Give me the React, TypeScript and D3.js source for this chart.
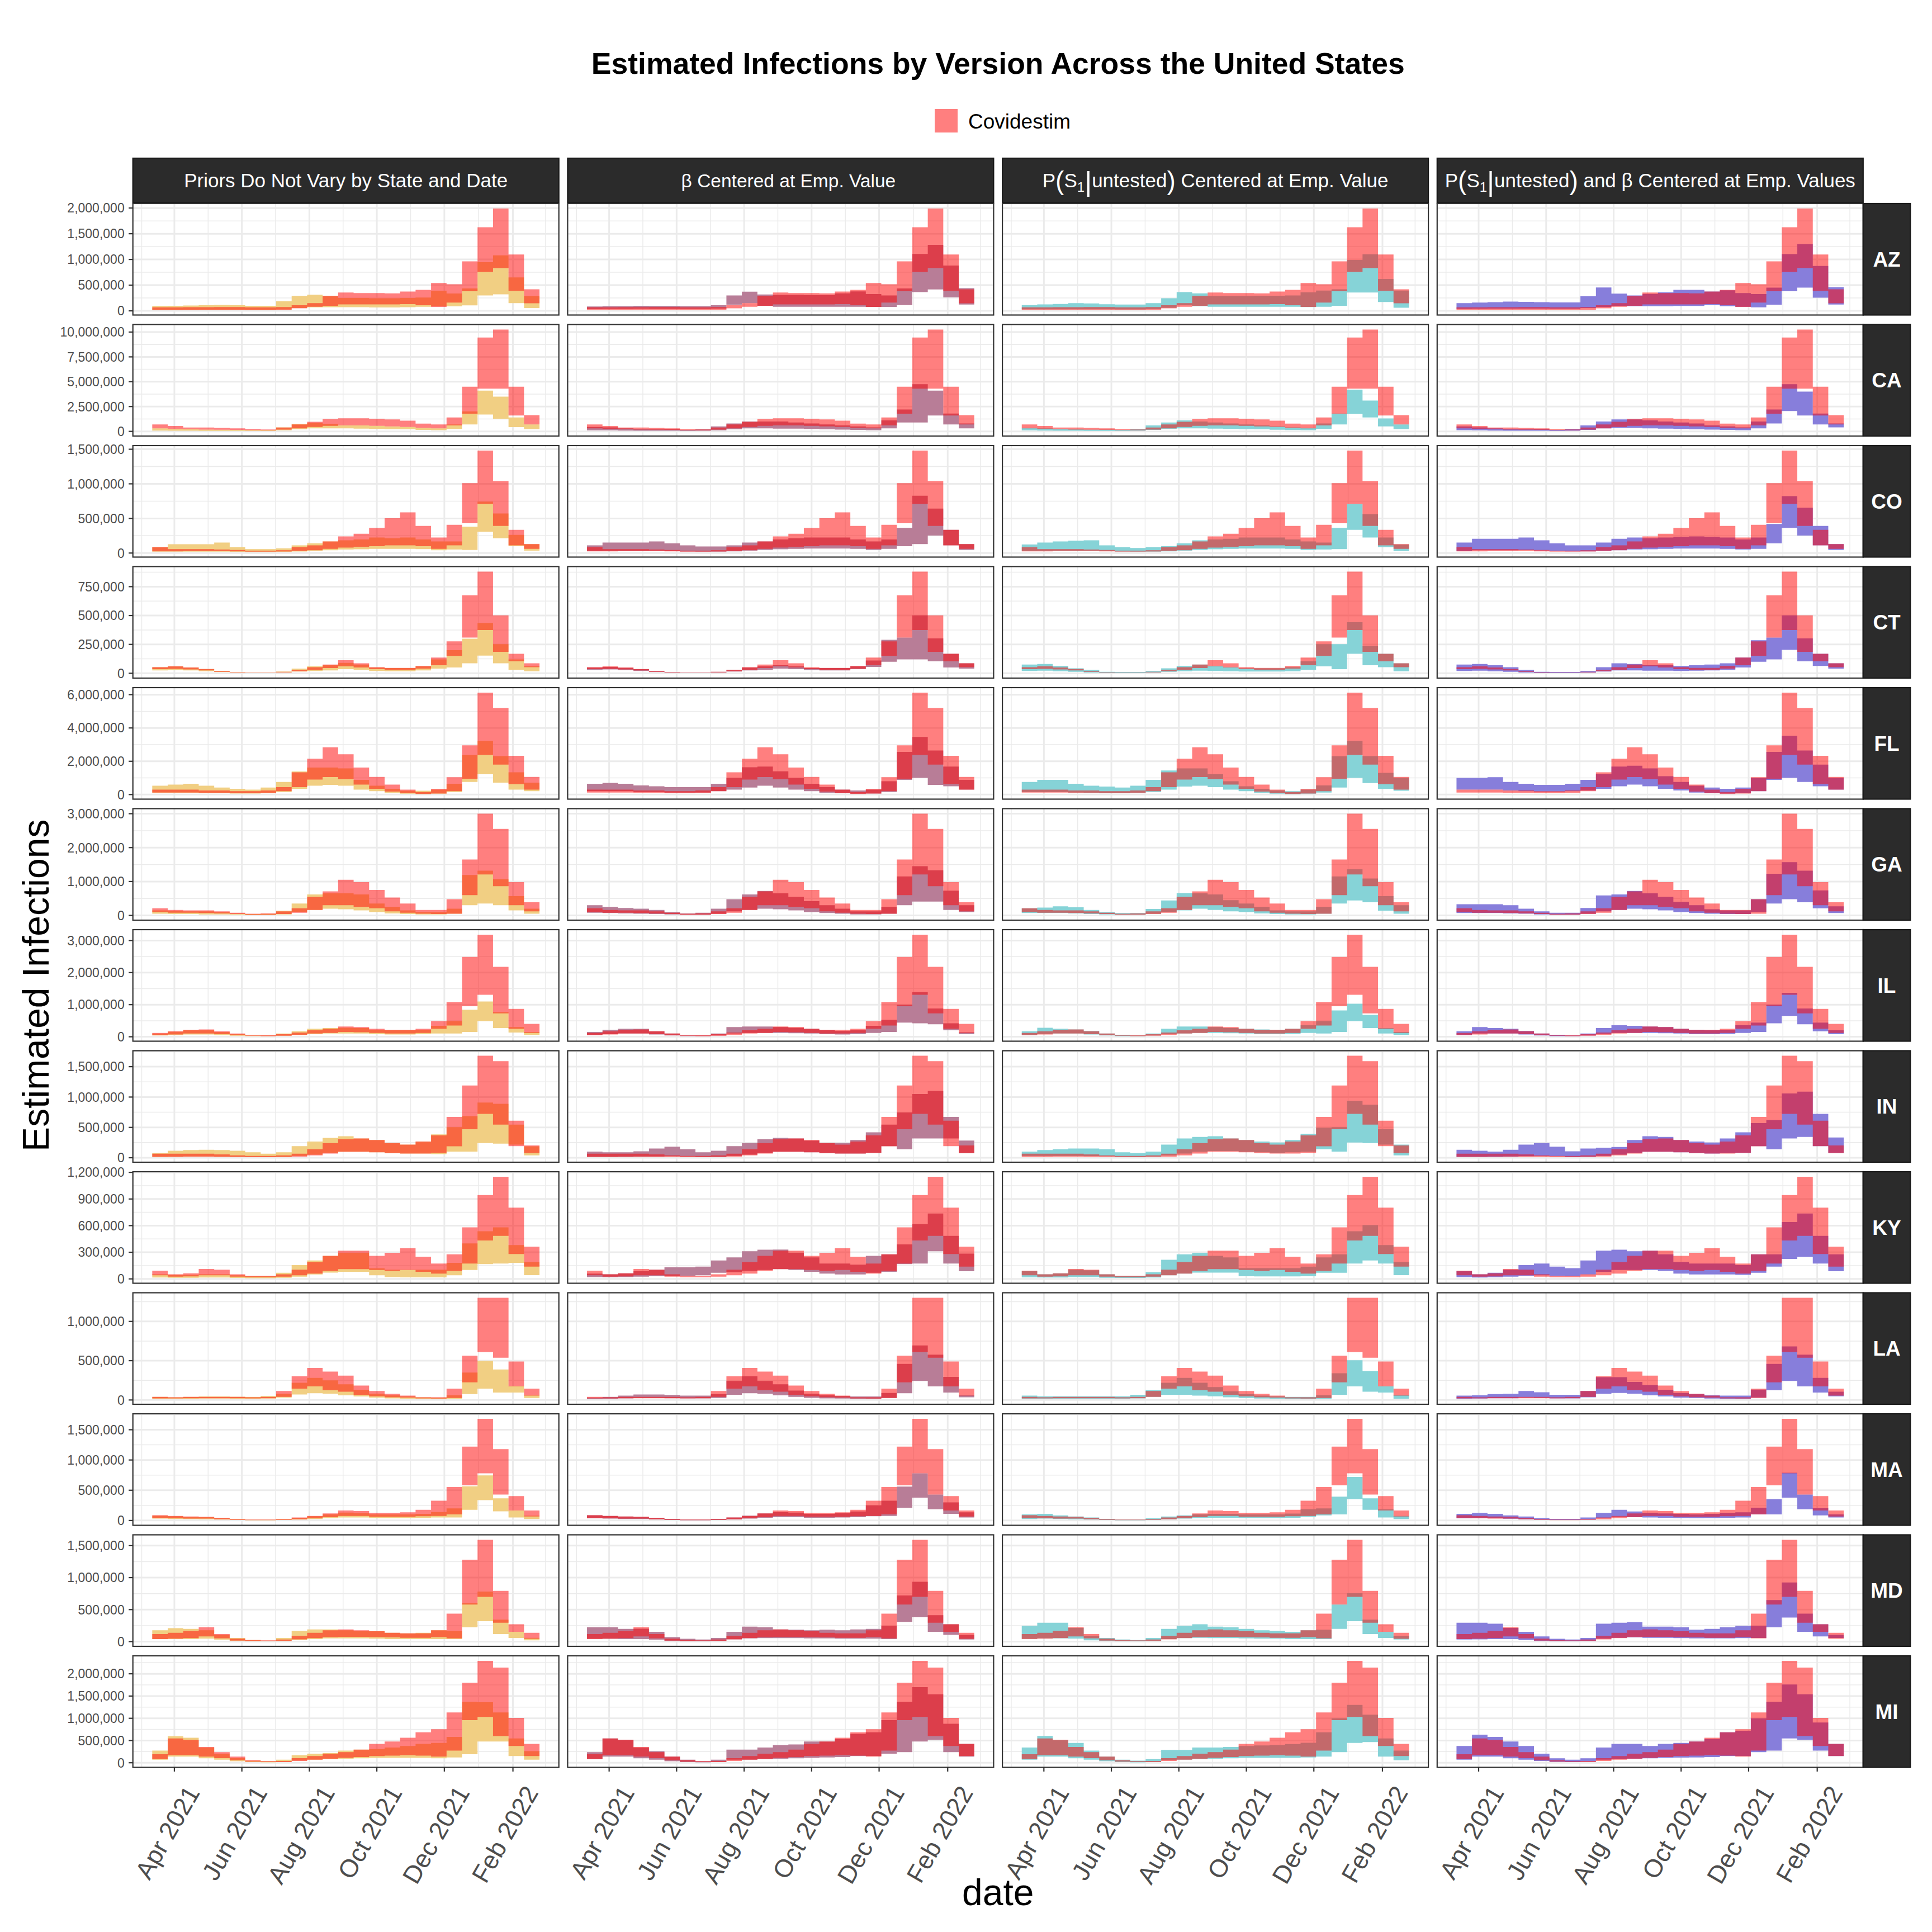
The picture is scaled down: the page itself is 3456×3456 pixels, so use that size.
import React from "react";
import * as d3 from "d3";

// ---- facets ----
const STATES = ["AZ", "CA", "CO", "CT", "FL", "GA", "IL", "IN", "KY", "LA", "MA", "MD", "MI"];
const VERSION_COLORS = ["#F1CF83", "#B87D97", "#86D3D7", "#877EDB"];

// biweekly periods, first one starts 2021-03-12
const FIRST_PERIOD = new Date(2021, 2, 12);
const PERIOD_DAYS = 14;
const N_PERIODS = 25;

const X_TICKS = [
  new Date(2021, 3, 1),
  new Date(2021, 5, 1),
  new Date(2021, 7, 1),
  new Date(2021, 9, 1),
  new Date(2021, 11, 1),
  new Date(2022, 1, 1),
];
const X_TICK_LABELS = ["Apr 2021", "Jun 2021", "Aug 2021", "Oct 2021", "Dec 2021", "Feb 2022"];

// ---- values, in thousands of infections (lo / hi of each ribbon) ----
// AZ
const azCovLo = [18,18,18,20,20,20,18,18,20,50,79,100,125,125,125,125,131,110,77,160,381,757,832,389,149];
const azCovHi = [70,70,72,72,75,75,70,70,75,110,150,293,357,345,345,340,375,410,542,517,963,1626,1990,1097,420];
const azV1Lo = [18,18,20,20,20,20,18,18,25,54,70,71,71,71,65,65,71,80,89,89,107,300,321,150,54];
const azV1Hi = [96,100,105,110,115,110,100,100,186,293,314,290,250,250,245,245,250,260,393,339,436,946,1080,650,286];
const azV2Lo = [35,38,40,42,40,40,38,40,45,120,150,100,80,80,80,80,80,80,77,77,113,364,418,263,123];
const azV2Hi = [85,90,92,100,95,95,90,92,110,300,373,320,310,310,305,305,340,380,327,300,435,1108,1283,882,440];
const azV3Lo = [30,32,32,32,32,30,28,28,35,60,112,90,80,80,80,80,80,80,75,80,100,358,358,172,60];
const azV3Hi = [112,127,135,150,145,130,122,122,150,246,365,340,290,290,290,295,295,300,360,395,420,990,1100,620,395];
const azV4Lo = [40,42,45,45,45,45,42,42,55,75,97,90,90,90,95,95,113,90,80,70,120,381,453,257,123];
const azV4Hi = [150,160,170,180,175,170,165,165,284,455,336,300,330,360,410,410,375,400,346,327,453,1105,1300,873,461];
// CA
const caCovLo = [310,250,200,180,160,150,120,100,180,300,450,550,600,600,550,500,450,350,300,600,1780,4300,4300,1600,700];
const caCovHi = [700,540,390,390,350,310,230,190,390,700,970,1240,1320,1320,1280,1200,1080,780,700,1400,4500,9450,10250,4500,1630];
const caV1Lo = [80,70,60,50,50,50,40,50,100,200,300,300,300,280,250,220,200,150,120,250,700,1700,1280,430,230];
const caV1Hi = [300,250,200,180,160,150,120,150,400,750,850,750,600,600,550,500,450,350,300,700,2000,4100,3500,1400,700];
const caV2Lo = [100,100,80,70,60,60,50,60,100,200,300,300,280,280,250,200,180,150,120,300,900,900,1600,700,300];
const caV2Hi = [450,400,300,250,200,200,150,200,500,800,1000,1000,1000,900,800,700,600,500,400,1100,2200,4750,4100,1800,800];
const caV3Lo = [100,80,70,60,50,50,50,70,150,250,300,300,280,250,220,200,160,140,120,250,700,1750,1400,500,230];
const caV3Hi = [350,300,250,200,180,180,150,250,600,900,1100,1000,900,800,700,600,500,400,350,800,1800,4200,3100,1300,700];
const caV4Lo = [120,100,80,70,60,60,50,70,150,300,350,350,300,280,250,200,180,150,120,300,800,2050,1600,700,400];
const caV4Hi = [500,400,300,250,200,200,150,250,600,1000,1200,1200,1100,1000,900,800,600,500,400,1000,2200,4750,4000,1800,800];
// CO
const coCovLo = [25,25,28,28,28,25,20,20,22,30,40,60,80,90,100,112,112,100,60,112,430,710,392,112,60];
const coCovHi = [84,56,56,56,50,45,34,34,40,84,112,168,241,280,364,504,588,392,224,409,1010,1480,1040,336,129];
const coV1Lo = [20,20,20,20,20,18,15,15,18,22,30,40,50,55,60,60,60,56,40,50,45,308,213,100,34];
const coV1Hi = [84,128,128,128,151,84,56,56,67,112,140,168,185,196,224,213,224,196,168,168,380,744,571,263,129];
const coV2Lo = [28,30,30,30,32,28,22,20,20,25,35,45,55,60,65,65,65,60,45,60,100,129,252,112,45];
const coV2Hi = [112,151,151,151,168,140,112,95,95,112,151,168,196,213,224,224,224,196,168,196,364,828,643,336,129];
const coV3Lo = [28,30,32,32,32,28,22,20,20,25,35,45,55,60,65,65,65,60,45,50,56,336,224,84,28];
const coV3Hi = [123,151,168,179,185,112,84,73,84,100,140,185,196,207,224,224,224,196,168,151,364,710,560,224,123];
const coV4Lo = [28,40,40,40,42,36,28,24,24,30,40,50,55,60,65,65,65,60,50,60,140,364,252,112,45];
const coV4Hi = [151,207,207,207,224,185,140,112,112,151,207,224,213,224,235,240,235,224,196,224,420,822,655,392,129];
// CT
const ctCovLo = [35,38,33,25,12,6,4,4,8,18,30,45,60,50,35,30,30,40,70,150,309,375,186,103,53];
const ctCovHi = [53,60,50,37,20,10,7,7,13,30,53,76,113,86,53,47,47,63,136,276,674,880,502,169,86];
const ctV1Lo = [25,28,25,18,10,4,3,3,6,15,20,25,35,30,20,18,18,25,40,50,86,153,86,30,17];
const ctV1Hi = [53,60,50,37,20,8,5,5,15,40,60,70,90,75,50,45,45,60,120,200,300,435,252,120,60];
const ctV2Lo = [30,33,28,20,10,4,3,3,6,15,25,30,40,35,28,25,25,35,55,100,120,120,103,50,40];
const ctV2Hi = [50,55,48,35,18,8,5,5,12,30,50,60,70,60,45,45,45,60,110,290,309,502,302,169,86];
const ctV3Lo = [20,22,18,12,6,3,2,2,5,12,18,22,20,18,15,15,15,18,30,60,36,169,70,53,17];
const ctV3Hi = [76,80,63,43,30,13,10,10,20,43,63,76,63,53,43,43,43,53,103,252,252,442,236,169,86];
const ctV4Lo = [20,22,18,12,6,3,2,2,5,15,25,25,22,22,20,22,25,30,50,100,120,202,103,63,40];
const ctV4Hi = [76,80,70,53,30,13,10,10,20,53,86,80,70,70,63,70,76,86,136,286,309,502,302,169,86];
// FL
const flCovLo = [120,120,120,100,100,80,80,100,200,450,900,1050,920,600,350,180,80,40,60,200,950,2380,1800,620,300];
const flCovHi = [300,300,300,250,250,200,200,250,450,1340,2150,2840,2420,1620,1060,600,300,150,350,1040,2960,6120,5200,2330,1060];
const flV1Lo = [100,100,100,80,80,60,60,80,150,350,530,580,530,300,200,100,50,30,50,150,760,1220,720,300,200];
const flV1Hi = [530,600,650,530,420,350,300,420,760,1390,1620,1620,1570,880,530,350,230,230,300,650,2380,3230,2310,1340,720];
const flV2Lo = [200,200,200,150,150,120,120,120,200,300,420,530,420,300,200,100,80,50,60,150,880,1000,580,500,300];
const flV2Hi = [650,700,650,550,500,450,450,450,650,1000,1640,1680,1400,1000,650,450,300,250,300,800,2560,3460,2650,1680,880];
const flV3Lo = [150,150,150,120,100,80,80,100,150,300,480,530,450,300,200,100,50,30,50,120,420,1000,690,350,230];
const flV3Hi = [760,880,880,650,530,480,420,530,880,1450,1570,1570,1220,800,500,350,250,200,300,550,2300,3230,2310,1300,1000];
const flV4Lo = [300,300,300,250,200,180,180,200,250,350,500,600,500,350,250,120,80,60,80,200,880,1000,760,500,300];
const flV4Hi = [1000,1000,1040,760,650,580,580,650,880,1220,1680,1730,1570,1100,760,530,420,350,420,1000,2560,3530,2650,1800,1000];
// GA
const gaCovLo = [100,80,80,70,60,40,20,20,40,80,160,300,300,250,210,120,80,50,40,50,600,1210,860,300,120];
const gaCovHi = [210,160,150,150,120,80,50,60,120,210,550,710,1050,980,750,530,350,160,160,480,1650,3000,2550,980,390];
const gaV1Lo = [50,40,40,30,30,20,10,10,30,100,160,200,180,150,100,60,40,30,30,50,300,350,300,150,50];
const gaV1Hi = [150,130,120,120,100,60,40,50,140,350,620,650,650,620,350,250,150,100,100,200,1190,1320,1070,570,200];
const gaV2Lo = [80,70,60,50,40,30,20,20,50,120,160,200,180,150,100,70,50,30,30,50,300,410,410,160,100];
const gaV2Hi = [300,250,220,200,160,100,60,80,200,480,620,720,650,550,420,300,200,120,120,250,1150,1450,1330,730,300];
const gaV3Lo = [70,70,70,60,40,30,20,20,50,100,150,200,160,120,100,60,40,30,30,50,350,440,390,140,50];
const gaV3Hi = [210,230,270,240,160,100,70,70,190,440,660,650,620,450,350,250,150,120,120,250,1150,1360,1090,570,300];
const gaV4Lo = [70,70,70,60,50,30,20,20,50,120,160,200,180,150,100,70,50,40,40,100,350,480,390,210,70];
const gaV4Hi = [330,330,330,300,200,120,80,80,220,590,620,720,650,550,400,300,180,150,150,480,1230,1570,1320,740,270];
// IL
const ilCovLo = [50,70,100,100,80,50,30,20,30,60,100,120,150,140,120,100,100,120,250,350,950,1310,730,250,120];
const ilCovHi = [120,170,220,230,170,100,60,50,80,130,200,250,320,300,250,220,220,250,490,1080,2490,3180,2180,870,400];
const ilV1Lo = [40,50,70,70,50,30,20,20,30,60,80,100,100,100,80,70,70,80,100,100,150,490,270,130,60];
const ilV1Hi = [100,160,200,200,150,80,40,40,100,170,250,270,280,270,220,200,200,220,340,490,840,1100,770,300,150];
const ilV2Lo = [60,80,100,100,70,40,20,20,40,100,120,120,120,110,100,80,70,80,120,150,440,420,390,200,80];
const ilV2Hi = [150,220,250,250,170,100,40,40,100,300,320,320,300,280,250,200,180,200,340,530,1000,1390,880,420,140];
const ilV3Lo = [60,90,100,100,70,40,20,20,40,80,100,120,120,110,100,80,80,90,120,100,150,490,270,100,60];
const ilV3Hi = [170,280,250,230,180,100,60,40,100,250,320,320,300,270,250,230,220,250,360,490,820,1030,680,270,150];
const ilV4Lo = [60,100,100,100,70,40,20,20,40,90,120,120,120,110,100,80,80,90,120,150,420,650,390,170,80];
const ilV4Hi = [170,300,270,250,180,100,60,40,100,270,360,340,320,300,250,220,200,220,360,440,1000,1370,880,440,200];
// IN
const inCovLo = [15,15,18,18,15,12,10,10,12,18,40,70,100,100,90,75,70,70,80,190,470,722,545,192,76];
const inCovHi = [66,66,66,66,56,40,30,30,40,66,141,242,303,318,293,242,217,268,369,672,1190,1680,1590,611,202];
const inV1Lo = [15,18,20,20,18,15,12,10,12,30,50,80,100,100,90,75,70,70,60,101,101,242,232,217,40];
const inV1Hi = [76,116,126,131,126,116,91,66,91,192,268,328,354,318,293,242,217,268,384,505,687,909,889,545,190];
const inV2Lo = [15,15,15,18,20,25,20,15,15,30,50,80,100,100,90,75,70,70,80,192,141,318,318,318,76];
const inV2Hi = [101,91,91,106,152,182,141,91,116,192,242,303,328,318,283,242,242,293,419,545,747,1050,1100,672,283];
const inV3Lo = [30,30,30,30,28,25,18,15,20,40,70,100,110,110,100,90,80,90,100,141,101,252,242,217,40];
const inV3Hi = [101,126,141,152,152,141,91,76,101,217,318,343,354,318,293,268,252,293,394,495,505,939,874,470,217];
const inV4Lo = [15,15,15,18,25,30,25,15,18,30,50,80,100,100,90,75,70,75,80,192,141,318,343,192,81];
const inV4Hi = [131,116,101,131,217,242,182,106,152,167,177,293,354,343,293,268,252,318,419,570,621,1060,1090,722,333];
// KY
const kyCovLo = [40,25,28,40,40,25,18,18,25,40,60,90,110,110,100,90,100,80,60,90,173,433,484,280,138];
const kyCovHi = [93,52,62,111,104,52,35,35,52,104,190,260,318,318,260,294,346,250,173,277,581,945,1150,803,363];
const kyV1Lo = [15,12,12,15,15,10,8,8,12,25,50,70,80,80,40,20,17,17,17,40,100,166,173,180,42];
const kyV1Hi = [52,45,45,52,52,40,30,30,69,156,208,260,294,294,120,104,104,104,104,180,400,536,581,380,190];
const kyV2Lo = [20,18,20,25,30,35,35,40,69,76,90,100,110,100,80,60,50,50,69,80,166,173,311,173,87];
const kyV2Hi = [60,52,62,87,104,130,130,138,208,242,311,329,330,294,242,173,173,160,260,277,388,616,737,484,284];
const kyV3Lo = [17,15,15,20,20,12,10,10,15,40,60,70,70,70,30,28,28,28,30,69,69,173,208,173,42];
const kyV3Hi = [87,52,62,104,97,52,35,35,76,215,277,294,260,242,121,121,121,121,138,242,277,536,606,380,190];
const kyV4Lo = [20,15,18,25,35,40,35,30,50,80,100,100,100,90,60,50,50,50,45,69,138,225,249,173,87];
const kyV4Hi = [87,52,69,104,156,173,138,121,208,318,329,311,318,277,190,173,173,173,156,277,277,640,737,484,277];
// LA
const laCovLo = [20,20,22,22,22,22,20,22,39,145,173,125,106,67,47,35,30,20,18,25,224,610,537,173,55];
const laCovHi = [39,35,39,39,39,39,35,39,114,302,408,361,310,184,114,78,55,35,35,145,565,1300,1300,490,145];
const laV1Lo = [15,15,15,18,18,15,15,18,30,70,86,80,60,45,30,20,15,12,10,15,75,145,94,94,25];
const laV1Hi = [39,35,40,45,45,42,40,50,80,220,282,250,200,130,80,60,45,35,30,60,350,498,388,176,60];
const laV2Lo = [12,15,20,25,25,22,20,20,25,67,86,78,60,40,28,20,18,15,15,25,86,243,173,94,35];
const laV2Hi = [30,39,55,70,70,65,55,55,75,243,302,243,200,120,80,60,50,45,45,90,459,694,576,294,60];
const laV3Lo = [16,16,16,16,16,16,16,20,40,67,67,55,47,35,25,18,15,12,12,15,67,173,106,94,16];
const laV3Hi = [55,47,47,47,47,47,47,67,125,220,282,220,165,110,75,55,45,40,40,60,341,506,369,173,67];
const laV4Lo = [16,18,22,22,30,28,20,20,35,78,90,80,60,45,30,25,18,15,15,30,125,243,173,94,47];
const laV4Hi = [55,59,75,78,114,98,67,67,114,290,290,230,190,130,90,75,60,55,55,133,459,682,576,282,106];
// MA
const maCovLo = [40,35,30,30,20,10,5,5,10,20,35,55,75,75,60,60,60,70,75,100,580,780,428,166,65];
const maCovHi = [86,75,65,60,45,25,15,15,25,50,75,116,166,156,126,126,136,176,327,554,1220,1680,1180,403,166];
const maV1Lo = [30,25,22,20,15,8,4,4,8,15,25,40,50,50,40,40,40,45,50,50,176,337,151,50,25];
const maV1Hi = [80,70,60,55,40,20,12,12,20,45,70,100,130,120,100,100,100,110,140,200,565,745,367,166,80];
const maV2Lo = [35,30,25,25,18,8,4,4,8,18,30,45,55,55,45,45,50,55,70,75,210,377,186,110,50];
const maV2Hi = [86,75,65,60,45,25,15,15,25,50,80,116,140,130,110,110,120,150,250,327,560,780,428,300,136];
const maV3Lo = [25,30,25,20,15,8,4,4,10,20,30,40,45,45,40,40,40,45,60,85,100,352,176,50,25];
const maV3Hi = [100,110,85,65,50,25,15,15,35,65,85,100,110,110,100,100,100,115,186,200,393,720,367,186,75];
const maV4Lo = [35,40,35,28,20,12,8,8,15,40,60,55,50,45,40,38,40,45,50,100,100,377,186,85,50];
const maV4Hi = [110,126,110,85,65,40,25,25,50,126,176,150,126,116,110,100,110,126,136,211,352,790,428,201,100];
// MD
const mdCovLo = [40,45,55,80,50,15,8,8,12,35,55,70,75,75,70,65,60,60,70,50,580,700,294,152,43];
const mdCovHi = [119,138,166,223,119,47,24,20,33,90,138,176,190,176,161,138,128,128,176,437,1280,1590,793,271,138];
const mdV1Lo = [40,40,40,45,30,10,5,5,8,25,40,50,50,50,45,40,40,40,40,40,223,318,119,57,20];
const mdV1Hi = [176,209,199,176,104,57,24,15,57,166,190,190,176,166,161,138,128,138,176,166,600,783,342,152,60];
const mdV2Lo = [43,43,40,40,30,12,5,5,10,35,50,55,55,55,50,50,45,45,45,40,309,380,152,104,33];
const mdV2Hi = [223,223,199,200,152,71,43,33,57,152,233,223,190,185,176,185,176,190,199,250,720,935,413,271,104];
const mdV3Lo = [43,50,50,45,20,10,5,5,10,40,55,60,55,55,50,45,45,40,40,40,199,318,119,57,33];
const mdV3Hi = [247,294,294,214,90,57,33,24,57,199,247,271,233,223,199,176,166,152,176,185,580,755,342,152,90];
const mdV4Lo = [33,35,40,40,25,12,5,5,10,45,60,65,60,60,55,50,50,50,55,57,223,375,152,81,57];
const mdV4Hi = [294,294,280,214,152,81,43,33,57,280,294,304,233,233,223,185,199,223,247,247,650,925,437,271,104];
// MI
const miCovLo = [82,171,171,137,103,55,25,15,15,40,70,90,110,130,150,160,170,160,137,274,959,1030,600,377,151];
const miCovHi = [192,548,514,356,240,137,55,34,40,103,151,205,240,295,425,479,562,685,753,1130,1800,2290,2140,1010,425];
const miV1Lo = [68,137,137,100,70,35,15,10,20,50,70,80,90,100,110,110,110,110,100,120,192,479,479,151,68];
const miV1Hi = [274,596,562,342,205,103,48,34,68,171,205,219,274,295,308,342,377,425,445,582,1370,1360,1130,548,260];
const miV2Lo = [82,137,137,100,70,35,15,10,20,68,70,80,90,100,110,120,130,150,150,205,240,479,514,240,137];
const miV2Hi = [240,548,514,342,260,137,68,34,68,295,295,342,397,411,479,479,534,651,685,959,1370,1700,1540,877,425];
const miV3Lo = [68,137,137,100,70,35,15,10,20,60,70,80,90,100,110,110,110,110,120,137,240,445,466,137,55];
const miV3Hi = [342,603,507,445,274,137,68,48,82,288,288,342,342,356,377,390,400,420,450,685,1000,1300,1080,548,274];
const miV4Lo = [68,137,137,100,70,40,20,15,25,68,80,90,100,110,115,120,130,150,150,240,274,548,514,274,151];
const miV4Hi = [377,630,582,479,377,205,100,68,100,342,425,425,377,425,445,479,534,685,720,1000,1370,1760,1540,904,425];

// y tick values per state
const azTicks = [0, 500000, 1000000, 1500000, 2000000];
const caTicks = [0, 2500000, 5000000, 7500000, 10000000];
const coTicks = [0, 500000, 1000000, 1500000];
const ctTicks = [0, 250000, 500000, 750000];
const flTicks = [0, 2000000, 4000000, 6000000];
const gaTicks = [0, 1000000, 2000000, 3000000];
const ilTicks = [0, 1000000, 2000000, 3000000];
const inTicks = [0, 500000, 1000000, 1500000];
const kyTicks = [0, 300000, 600000, 900000, 1200000];
const laTicks = [0, 500000, 1000000];
const maTicks = [0, 500000, 1000000, 1500000];
const mdTicks = [0, 500000, 1000000, 1500000];
const miTicks = [0, 500000, 1000000, 1500000, 2000000];

type Band = [number[], number[]];
interface StateRow {
  cov: Band;
  versions: Band[];
  ticks: number[];
}

const ROWS: Record<string, StateRow> = {
  AZ: { cov: [azCovLo, azCovHi], versions: [[azV1Lo, azV1Hi], [azV2Lo, azV2Hi], [azV3Lo, azV3Hi], [azV4Lo, azV4Hi]], ticks: azTicks },
  CA: { cov: [caCovLo, caCovHi], versions: [[caV1Lo, caV1Hi], [caV2Lo, caV2Hi], [caV3Lo, caV3Hi], [caV4Lo, caV4Hi]], ticks: caTicks },
  CO: { cov: [coCovLo, coCovHi], versions: [[coV1Lo, coV1Hi], [coV2Lo, coV2Hi], [coV3Lo, coV3Hi], [coV4Lo, coV4Hi]], ticks: coTicks },
  CT: { cov: [ctCovLo, ctCovHi], versions: [[ctV1Lo, ctV1Hi], [ctV2Lo, ctV2Hi], [ctV3Lo, ctV3Hi], [ctV4Lo, ctV4Hi]], ticks: ctTicks },
  FL: { cov: [flCovLo, flCovHi], versions: [[flV1Lo, flV1Hi], [flV2Lo, flV2Hi], [flV3Lo, flV3Hi], [flV4Lo, flV4Hi]], ticks: flTicks },
  GA: { cov: [gaCovLo, gaCovHi], versions: [[gaV1Lo, gaV1Hi], [gaV2Lo, gaV2Hi], [gaV3Lo, gaV3Hi], [gaV4Lo, gaV4Hi]], ticks: gaTicks },
  IL: { cov: [ilCovLo, ilCovHi], versions: [[ilV1Lo, ilV1Hi], [ilV2Lo, ilV2Hi], [ilV3Lo, ilV3Hi], [ilV4Lo, ilV4Hi]], ticks: ilTicks },
  IN: { cov: [inCovLo, inCovHi], versions: [[inV1Lo, inV1Hi], [inV2Lo, inV2Hi], [inV3Lo, inV3Hi], [inV4Lo, inV4Hi]], ticks: inTicks },
  KY: { cov: [kyCovLo, kyCovHi], versions: [[kyV1Lo, kyV1Hi], [kyV2Lo, kyV2Hi], [kyV3Lo, kyV3Hi], [kyV4Lo, kyV4Hi]], ticks: kyTicks },
  LA: { cov: [laCovLo, laCovHi], versions: [[laV1Lo, laV1Hi], [laV2Lo, laV2Hi], [laV3Lo, laV3Hi], [laV4Lo, laV4Hi]], ticks: laTicks },
  MA: { cov: [maCovLo, maCovHi], versions: [[maV1Lo, maV1Hi], [maV2Lo, maV2Hi], [maV3Lo, maV3Hi], [maV4Lo, maV4Hi]], ticks: maTicks },
  MD: { cov: [mdCovLo, mdCovHi], versions: [[mdV1Lo, mdV1Hi], [mdV2Lo, mdV2Hi], [mdV3Lo, mdV3Hi], [mdV4Lo, mdV4Hi]], ticks: mdTicks },
  MI: { cov: [miCovLo, miCovHi], versions: [[miV1Lo, miV1Hi], [miV2Lo, miV2Hi], [miV3Lo, miV3Hi], [miV4Lo, miV4Hi]], ticks: miTicks },
};

// ---- layout ----
const W = 3456;
const H = 3456;
const FONT = "'Liberation Sans', Arial, Helvetica, sans-serif";
const COL_LEFT = [237.7, 1015.4, 1793.1, 2570.8];
const PW = 762;
const PH = 199.5;
const ROW0 = 364;
const ROW_STEP = 216.5;
const STRIP_TOP = 283;
const STRIP_H = 80;
const STRIP_W = 84.5;
const GRID = "#EBEBEB";
const BORDER = "#333333";
const STRIP_FILL = "#2B2B2B";
const TICK_TEXT = "#4D4D4D";

const periodDates = d3.range(N_PERIODS + 1).map((i) => d3.timeDay.offset(FIRST_PERIOD, i * PERIOD_DAYS));
const spanMs = +periodDates[N_PERIODS] - +periodDates[0];
const x = d3
  .scaleTime()
  .domain([new Date(+periodDates[0] - spanMs * 0.05), new Date(+periodDates[N_PERIODS] + spanMs * 0.05)])
  .range([0, PW]);

// minor x breaks: halfway between (extended) major breaks
const xMajorExt = [d3.timeMonth.offset(X_TICKS[0], -2), ...X_TICKS, d3.timeMonth.offset(X_TICKS[X_TICKS.length - 1], 2)];
const xMinor = d3
  .pairs(xMajorExt)
  .map(([a, b]) => new Date((+a + +b) / 2))
  .filter((d) => x(d) >= 0 && x(d) <= PW);

const rowTop = (r: number) => ROW0 + r * ROW_STEP;

function yScaleFor(row: StateRow) {
  const all = [row.cov, ...row.versions];
  const lo = d3.min(all, (b) => d3.min(b[0])) as number;
  const hi = d3.max(all, (b) => d3.max(b[1])) as number;
  const pad = (hi - lo) * 0.05;
  return d3.scaleLinear().domain([(lo - pad) * 1000, (hi + pad) * 1000]).range([PH, 0]);
}

function yMinor(ticks: number[], y: d3.ScaleLinear<number, number>) {
  const step = ticks[1] - ticks[0];
  const ext = [ticks[0] - step, ...ticks, ticks[ticks.length - 1] + step];
  const [d0, d1] = y.domain();
  return d3
    .pairs(ext)
    .map(([a, b]) => (a + b) / 2)
    .filter((v) => v >= d0 && v <= d1);
}

function ribbon(band: Band, y: d3.ScaleLinear<number, number>) {
  const [lo, hi] = band;
  const idx = d3.range(N_PERIODS + 1);
  const at = (arr: number[], i: number) => arr[Math.min(i, N_PERIODS - 1)] * 1000;
  return d3
    .area<number>()
    .x((i) => x(periodDates[i]))
    .y0((i) => y(at(lo, i)))
    .y1((i) => y(at(hi, i)))
    .curve(d3.curveStepAfter)(idx) as string;
}

const fmt = d3.format(",");

const StripLabel: React.FC<{ col: number }> = ({ col }) => {
  const cx = COL_LEFT[col] + PW / 2;
  const cy = STRIP_TOP + STRIP_H / 2 + 12;
  const common = { x: cx, y: cy, textAnchor: "middle" as const, fill: "white", fontSize: 35, fontFamily: FONT };
  if (col === 0) return <text {...common}>Priors Do Not Vary by State and Date</text>;
  if (col === 1)
    return (
      <text {...common} x={cx + 14} fontSize={33.5}>
        β Centered at Emp. Value
      </text>
    );
  const tail = col === 2 ? " Centered at Emp. Value" : " and β Centered at Emp. Values";
  return (
    <text {...common}>
      <tspan>P</tspan>
      <tspan fontSize={46} dy={4}>(</tspan>
      <tspan dy={-4}>S</tspan>
      <tspan fontSize={24} dy={8}>1</tspan>
      <tspan fontSize={50} dy={-1}>|</tspan>
      <tspan dy={-7}>untested</tspan>
      <tspan fontSize={46} dy={4}>)</tspan>
      <tspan dy={-4}>{tail}</tspan>
    </text>
  );
};

const Panel: React.FC<{ r: number; c: number; row: StateRow; y: d3.ScaleLinear<number, number> }> = ({ r, c, row, y }) => {
  const minorY = yMinor(row.ticks, y);
  return (
    <g transform={`translate(${COL_LEFT[c]},${rowTop(r)})`}>
      <rect width={PW} height={PH} fill="white" />
      {minorY.map((v) => (
        <line key={`my${v}`} x1={0} x2={PW} y1={y(v)} y2={y(v)} stroke={GRID} strokeWidth={1.5} />
      ))}
      {xMinor.map((d) => (
        <line key={`mx${+d}`} x1={x(d)} x2={x(d)} y1={0} y2={PH} stroke={GRID} strokeWidth={1.5} />
      ))}
      {row.ticks.map((v) => (
        <line key={`gy${v}`} x1={0} x2={PW} y1={y(v)} y2={y(v)} stroke={GRID} strokeWidth={3} />
      ))}
      {X_TICKS.map((d) => (
        <line key={`gx${+d}`} x1={x(d)} x2={x(d)} y1={0} y2={PH} stroke={GRID} strokeWidth={3} />
      ))}
      <path d={ribbon(row.versions[c], y)} fill={VERSION_COLORS[c]} />
      <path d={ribbon(row.cov, y)} fill="#FF0000" fillOpacity={0.5} />
      <rect width={PW} height={PH} fill="none" stroke={BORDER} strokeWidth={2.2} />
    </g>
  );
};

export default function App() {
  const last = STATES.length - 1;
  const bottom = rowTop(last) + PH;
  const panelsCx = (COL_LEFT[0] + COL_LEFT[3] + PW) / 2;
  const panelsCy = (rowTop(0) + bottom) / 2;
  return (
    <div>
      <style>{`body{margin:0}`}</style>
      <svg width={W} height={H} viewBox={`0 0 ${W} ${H}`} style={{ display: "block", background: "white" }}>
        <rect width={W} height={H} fill="white" />
        <text x={panelsCx} y={132} textAnchor="middle" fontFamily={FONT} fontWeight="bold" fontSize={53.5} fill="black">
          Estimated Infections by Version Across the United States
        </text>
        {/* legend */}
        <rect x={1672} y={195} width={41} height={42} fill="#FF0000" fillOpacity={0.5} />
        <text x={1732} y={230} fontFamily={FONT} fontSize={37} fill="black">
          Covidestim
        </text>

        {/* column strips */}
        {COL_LEFT.map((cx, c) => (
          <g key={`strip${c}`}>
            <rect x={cx} y={STRIP_TOP} width={PW} height={STRIP_H} fill={STRIP_FILL} stroke="#1A1A1A" strokeWidth={2.2} />
            <StripLabel col={c} />
          </g>
        ))}

        {STATES.map((st, r) => {
          const row = ROWS[st];
          const y = yScaleFor(row);
          const top = rowTop(r);
          return (
            <g key={st}>
              {[0, 1, 2, 3].map((c) => (
                <Panel key={c} r={r} c={c} row={row} y={y} />
              ))}
              {/* row strip */}
              <rect
                x={COL_LEFT[3] + PW}
                y={top}
                width={STRIP_W}
                height={PH}
                fill={STRIP_FILL}
                stroke="#1A1A1A"
                strokeWidth={2.2}
              />
              <text
                x={COL_LEFT[3] + PW + STRIP_W / 2}
                y={top + PH / 2 + 13}
                textAnchor="middle"
                fontFamily={FONT}
                fontWeight="bold"
                fontSize={37}
                fill="white"
              >
                {st}
              </text>
              {/* y axis */}
              {row.ticks.map((v) => (
                <g key={`yt${v}`}>
                  <line x1={COL_LEFT[0] - 7.5} x2={COL_LEFT[0]} y1={top + y(v)} y2={top + y(v)} stroke={BORDER} strokeWidth={2.2} />
                  <text
                    x={COL_LEFT[0] - 15}
                    y={top + y(v)}
                    dy="0.36em"
                    textAnchor="end"
                    fontFamily={FONT}
                    fontSize={23}
                    fill={TICK_TEXT}
                  >
                    {fmt(v)}
                  </text>
                </g>
              ))}
            </g>
          );
        })}

        {/* x axes on the bottom row */}
        {COL_LEFT.map((cx, c) => (
          <g key={`xa${c}`}>
            {X_TICKS.map((d, i) => {
              const tx = cx + x(d);
              return (
                <g key={i}>
                  <line x1={tx} x2={tx} y1={bottom} y2={bottom + 7.5} stroke={BORDER} strokeWidth={2.2} />
                  <text
                    transform={`translate(${tx},${bottom + 18}) rotate(-60)`}
                    y={54}
                    textAnchor="end"
                    fontFamily={FONT}
                    fontSize={45}
                    fill={TICK_TEXT}
                  >
                    {X_TICK_LABELS[i]}
                  </text>
                </g>
              );
            })}
          </g>
        ))}

        {/* axis titles */}
        <text x={panelsCx} y={3408} textAnchor="middle" fontFamily={FONT} fontSize={66} fill="black">
          date
        </text>
        <text
          transform={`translate(87,${panelsCy}) rotate(-90)`}
          textAnchor="middle"
          fontFamily={FONT}
          fontSize={66}
          fill="black"
        >
          Estimated Infections
        </text>
      </svg>
    </div>
  );
}
